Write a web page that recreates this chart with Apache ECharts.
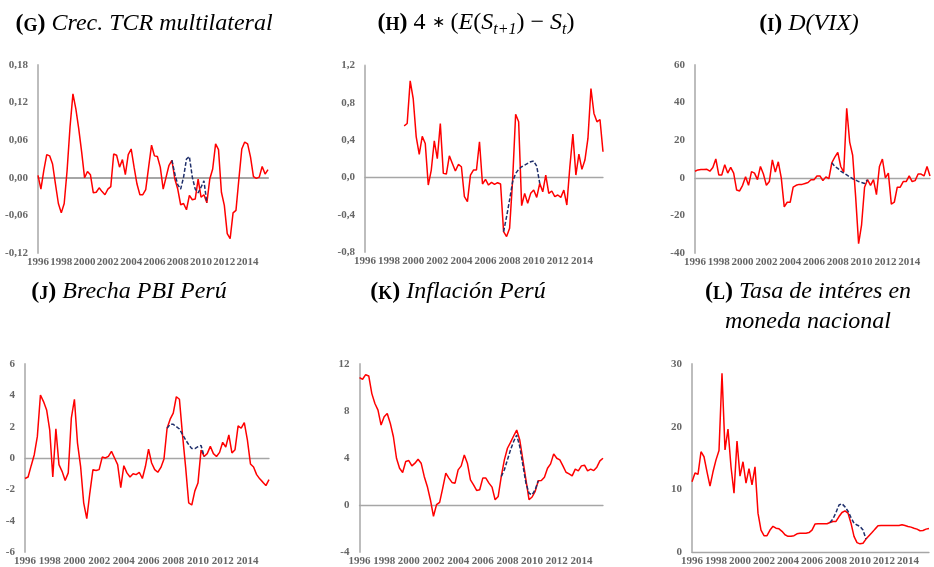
<!DOCTYPE html>
<html>
<head>
<meta charset="utf-8">
<script src="https://cdn.jsdelivr.net/npm/echarts@6/dist/echarts.min.js"></script>
<style>
  html, body { margin: 0; background: #fff; }
  #chart { width: 934px; height: 567px; }
</style>
</head>
<body>
<div id="chart"></div>
<script>
const years = [1996, 1997, 1998, 1999, 2000, 2001, 2002, 2003, 2004, 2005,
  2006, 2007, 2008, 2009, 2010, 2011, 2012, 2013, 2014, 2015];
const quarters = years.flatMap((y) => ['T1', 'T2', 'T3', 'T4'].map((q) => y + q));

// escenario alternativo empieza en 2007T3
const simStart = 46;

// (g) Crec. TCR multilateral
const tcrGrowth = [0.004, -0.018, 0.012, 0.037, 0.035, 0.022, -0.010, -0.041, -0.056, -0.041,
  0.012, 0.081, 0.134, 0.110, 0.078, 0.041, 0.000, 0.010, 0.005, -0.024,
  -0.023, -0.016, -0.022, -0.027, -0.018, -0.014, 0.038, 0.036, 0.017, 0.029,
  0.005, 0.037, 0.046, 0.017, -0.010, -0.027, -0.027, -0.019, 0.017, 0.052,
  0.035, 0.034, 0.017, -0.018, 0.001, 0.020, 0.028, -0.002, -0.018, -0.043,
  -0.041, -0.051, -0.028, -0.035, -0.034, -0.002, -0.031, -0.027, -0.040, -0.002,
  0.014, 0.054, 0.045, -0.023, -0.044, -0.089, -0.097, -0.056, -0.052, -0.002,
  0.046, 0.057, 0.054, 0.033, 0.002, -0.001, 0.001, 0.018, 0.006, 0.013];
const tcrGrowthSim = [0.028, 0.006, -0.011, -0.018, 0.001, 0.030, 0.034, 0.001, -0.018, -0.024, -0.015, -0.005, -0.040];

// (h) 4*(E(S_t+1) - S_t)
const expDepr = [null, null, null, null, null, null, null, null, null, null, null, null, null,
  0.553, 0.578, 1.035, 0.846, 0.435, 0.246, 0.44, 0.364, -0.082, 0.079,
  0.393, 0.2, 0.578, 0.043, 0.036, 0.232, 0.15, 0.068, 0.139, 0.114,
  -0.207, -0.26, 0.025, 0.079, 0.079, 0.382, -0.071, -0.021, -0.082, -0.054,
  -0.075, -0.057, -0.071, -0.582, -0.635, -0.546, -0.029, 0.678, 0.596, -0.303,
  -0.171, -0.278, -0.171, -0.136, -0.214, -0.064, -0.154, 0.025, -0.171, -0.146,
  -0.207, -0.189, -0.214, -0.136, -0.296, 0.114, 0.464, 0.025, 0.25, 0.086,
  0.186, 0.418, 0.953, 0.686, 0.596, 0.621, 0.275];
const expDeprSim = [-0.582, -0.42, -0.24, -0.046, 0.043, 0.086, 0.114, 0.132, 0.15, 0.168, 0.175, 0.12, -0.064];

// (i) D(VIX)
const dVix = [3.5, 4.2, 4.4, 4.4, 4.5, 3.5, 5.5, 10, 1.5, 1.5,
  7, 2.5, 5.5, 2.5, -6.5, -7, -4, 0.5, -4, 3.3,
  2.5, -1, 6, 2, -4, -2, 9.5, 3, 8.5, 0,
  -15.5, -13, -13, -5, -4, -3.5, -3.5, -3, -2.5, -1,
  -1, 1, 1, -1.5, 0.5, -0.5, 8, 11, 13.5, 6,
  3, 37, 19, 12, -10, -35, -25, -5, -1, -4,
  -1, -9, 6, 10, 0, 2.5, -14, -13, -5, -5,
  -2, -2, 1, -2, -1.5, 2, 2, 1, 6, 1];
const dVixSim = [8, 6, 5, 3.5, 2.5, 1.5, 0.5, -0.5, -1.2, -2, -2.5, -3, -1];

// (j) Brecha PBI Perú
const gapPeru = [-1.31, -1.21, -0.49, 0.21, 1.38, 4.02, 3.6, 3.07, 1.8, -1.21,
  1.86, -0.42, -0.85, -1.44, -0.95, 2.54, 3.75, 0.95, -0.53, -2.86,
  -3.87, -2.22, -0.74, -0.8, -0.74, 0.06, 0.0, 0.1, 0.42, 0.0,
  -0.42, -1.9, -0.49, -0.95, -1.21, -1.0, -1.06, -0.91, -1.31, -0.53,
  0.57, -0.32, -0.74, -0.91, -0.6, -0.06, 1.9, 2.48, 2.86, 3.91,
  3.75, 1.48, -0.57, -2.86, -3.0, -2.1, -1.6, 0.5, 0.1, 0.28,
  0.74, 0.28, 0.1, 0.36, 1.0, 0.7, 1.48, 0.32, 0.53, 2.05,
  1.9, 2.26, 1.16, -0.38, -0.57, -1.06, -1.33, -1.54, -1.76, -1.38];
const gapPeruSim = [1.9, 2.15, 2.15, 2.0, 1.85, 1.5, 1.16, 0.85, 0.6, 0.6, 0.72, 0.8, 0.1];

// (k) Inflación Perú
const inflPeru = [10.84, 10.7, 11.09, 10.98, 9.48, 8.64, 8.07, 6.8, 7.51, 7.79,
  6.94, 5.81, 3.98, 3.13, 2.77, 3.7, 3.78, 3.33, 3.56, 3.89,
  3.56, 2.43, 1.58, 0.45, -0.96, 0.03, 0.23, 1.44, 2.71, 2.29,
  1.92, 1.86, 2.99, 3.33, 4.26, 3.56, 2.14, 1.72, 1.24, 1.3,
  2.29, 2.29, 1.86, 1.52, 0.45, 0.73, 2.43, 3.84, 4.83, 5.33,
  5.87, 6.38, 5.53, 3.84, 2.14, 0.45, 0.68, 1.16, 2.06, 2.09,
  2.37, 3.13, 3.5, 4.35, 3.98, 3.84, 3.33, 2.79, 2.65, 2.48,
  3.05, 2.91, 3.33, 3.39, 2.91, 3.05, 2.93, 3.22, 3.75, 3.98];
const inflPeruSim = [2.43, 3.0, 3.84, 4.7, 5.4, 5.95, 4.97, 3.4, 1.86, 1.0, 0.87, 1.3, 2.06];

// (l) Tasa de interés en moneda nacional
const rateMN = [11.2, 12.6, 12.4, 16.0, 15.2, 12.8, 10.5, 12.8, 14.7, 16.2,
  28.5, 16.3, 19.6, 13.6, 9.4, 17.7, 12.1, 14.4, 11.0, 13.3,
  10.7, 13.6, 6.2, 3.5, 2.6, 2.6, 3.5, 4.1, 3.8, 3.7,
  3.3, 2.75, 2.5, 2.5, 2.6, 2.9, 3.0, 3.0, 3.0, 3.1,
  3.5, 4.45, 4.5, 4.5, 4.5, 4.5, 4.7, 4.87, 4.87, 5.66,
  6.3, 6.56, 6.2, 4.6, 2.5, 1.5, 1.3, 1.4, 2.06, 2.6,
  3.1, 3.65, 4.18, 4.23, 4.23, 4.23, 4.23, 4.23, 4.23, 4.23,
  4.34, 4.23, 4.07, 3.97, 3.8, 3.65, 3.39, 3.44, 3.65, 3.76];
const rateMNSim = [4.7, 5.3, 6.3, 7.5, 7.7, 7.2, 6.5, 5.5, 4.6, 4.3, 4.1, 3.5, 2.06];

const panels = [
  { real: tcrGrowth, sim: tcrGrowthSim, min: -0.12, max: 0.18, step: 0.06, dec: 2,
    grid: { left: 38, top: 65, width: 230, height: 188 } },
  { real: expDepr, sim: expDeprSim, min: -0.8, max: 1.2, step: 0.4, dec: 1,
    grid: { left: 365, top: 65.5, width: 238, height: 186.5 } },
  { real: dVix, sim: dVixSim, min: -40, max: 60, step: 20, dec: 0,
    grid: { left: 695, top: 65, width: 235, height: 188 } },
  { real: gapPeru, sim: gapPeruSim, min: -6, max: 6, step: 2, dec: 0,
    grid: { left: 25, top: 364, width: 244, height: 189 } },
  { real: inflPeru, sim: inflPeruSim, min: -4, max: 12, step: 4, dec: 0,
    grid: { left: 359.5, top: 364, width: 243.5, height: 189 } },
  { real: rateMN, sim: rateMNSim, min: 0, max: 30, step: 10, dec: 0,
    grid: { left: 692, top: 364, width: 237, height: 189 } }
];

const serif = 'Liberation Serif';
const labelStyle = { fontFamily: serif, fontSize: 11, fontWeight: 'bold', color: '#666' };
const axisGray = '#a6a6a6';

const grids = [];
const xAxes = [];
const yAxes = [];
const series = [];

panels.forEach((p, k) => {
  grids.push(p.grid);
  xAxes.push({
    gridIndex: k, type: 'category', data: quarters, boundaryGap: false,
    axisLine: { onZero: true, lineStyle: { color: axisGray, width: k === 0 ? 2.2 : 1.3 } },
    axisTick: { show: false }, axisLabel: { show: false }, splitLine: { show: false }
  });
  xAxes.push({
    gridIndex: k, type: 'category', data: quarters, boundaryGap: false, position: 'bottom',
    axisLine: { show: false, onZero: false }, axisTick: { show: false }, splitLine: { show: false },
    axisLabel: Object.assign({ interval: 7, margin: 4, formatter: (v) => v.slice(0, 4) }, labelStyle)
  });
  yAxes.push({
    gridIndex: k, type: 'value', min: p.min, max: p.max, interval: p.step,
    axisLine: { show: true, lineStyle: { color: '#bdbdbd', width: 2 } },
    axisTick: { show: false }, splitLine: { show: false },
    axisLabel: Object.assign({ margin: 10, formatter: (v) => v.toFixed(p.dec).replace('.', ',') }, labelStyle)
  });
  const simFull = quarters.map((q, i) => (i >= simStart && i < simStart + p.sim.length ? p.sim[i - simStart] : null));
  series.push({
    type: 'line', xAxisIndex: 2 * k, yAxisIndex: k, data: p.real, symbol: 'none',
    lineStyle: { color: '#ff0000', width: 1.5 }, connectNulls: false
  });
  series.push({
    type: 'line', xAxisIndex: 2 * k, yAxisIndex: k, data: simFull, symbol: 'none',
    lineStyle: { color: '#1f2f6b', width: 1.5, type: [4, 2] }, connectNulls: false
  });
});

const rich = {
  p: { fontFamily: serif, fontSize: 24, fontWeight: 'bold', fill: '#000', lineHeight: 28 },
  sc: { fontFamily: serif, fontSize: 18, fontWeight: 'bold', fill: '#000', lineHeight: 28, padding: [4, 0, 0, 0] },
  i: { fontFamily: serif, fontSize: 24, fontStyle: 'italic', fill: '#000', lineHeight: 28 },
  n: { fontFamily: serif, fontSize: 24, fill: '#000', lineHeight: 28 },
  ast: { fontFamily: serif, fontSize: 16, fill: '#000', lineHeight: 28 },
  sub: { fontFamily: serif, fontSize: 16, fontStyle: 'italic', fill: '#000', lineHeight: 28, padding: [14, 0, 0, 0] }
};

function titleText(cx, y, text) {
  return {
    type: 'text', x: cx, y: y, silent: true,
    style: { text: text, align: 'center', verticalAlign: 'top', rich: rich, fontFamily: serif, fontSize: 24 }
  };
}

const titles = [
  titleText(144, 10, '{p|(}{sc|G}{p|)} {i|Crec. TCR multilateral}'),
  titleText(476, 9, '{p|(}{sc|H}{p|)} {n|4 }{ast|∗}{n| (}{i|E}{n|(}{i|S}{sub|t+1}{n|) − }{i|S}{sub|t}{n|)}'),
  titleText(809, 10, '{p|(}{sc|I}{p|)} {i|D(VIX)}'),
  titleText(129, 278, '{p|(}{sc|J}{p|)} {i|Brecha PBI Perú}'),
  titleText(458, 278, '{p|(}{sc|K}{p|)} {i|Inflación Perú}'),
  titleText(808, 278, '{p|(}{sc|L}{p|)} {i|Tasa de intéres en}'),
  titleText(808, 308, '{i|moneda nacional}')
];

const chart = echarts.init(document.getElementById('chart'));
chart.setOption({
  animation: false,
  grid: grids,
  xAxis: xAxes,
  yAxis: yAxes,
  series: series,
  graphic: titles
});
</script>
</body>
</html>
